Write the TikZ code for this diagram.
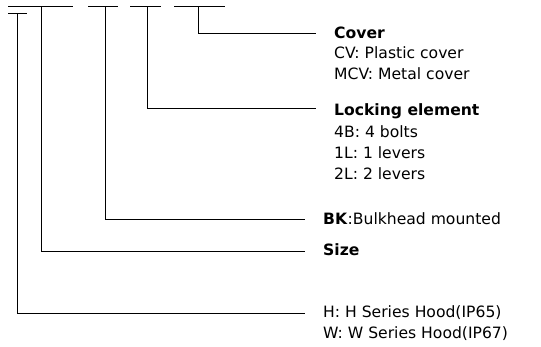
\documentclass[tikz,border=0pt]{standalone}
\usepackage{fontspec}
\setmainfont{DejaVu Sans}
\usetikzlibrary{positioning}

\tikzset{
  head/.style={anchor=base west, inner sep=0pt, font=\fontsize{15.6}{21}\selectfont\bfseries},
  plain/.style={anchor=base west, inner sep=0pt, font=\fontsize{15.6}{21}\selectfont},
  items/.style={anchor=base west, inner sep=0pt, align=left,
    font=\fontsize{15.6}{21.2}\selectfont},
  slot/.style={line width=1pt},
  lead/.style={line width=1pt}
}

\begin{document}
\begin{tikzpicture}[x=1pt,y=-1pt]
  \useasboundingbox (0,0) rectangle (541,346);
  % code slots
  \draw[slot] (8,6) -- (73,6);
  \draw[slot] (8,13) -- (27,13);
  \draw[slot] (88,6) -- (118,6);
  \draw[slot] (130,6) -- (161,6);
  \draw[slot] (174,6) -- (225,6);
  \coordinate (hd) at (17,13);
  \coordinate (sz) at (41,6);
  \coordinate (bk) at (105,6);
  \coordinate (lk) at (147,6);
  \coordinate (cv) at (198,6);
  % texts (base of a list = its last line)
  \node[head] (cover) at (334,38.5) {Cover};
  \node[items] (coverlist) at (334,79.5)
    {CV: Plastic cover\\MCV: Metal cover};
  \node[head] (lock) at (334,115.5) {Locking element};
  \node[items] (locklist) at (334,179.5)
    {4B: 4 bolts\\1L: 1 levers\\2L: 2 levers};
  \node[plain] (bulk) at (323,224.5) {\textbf{BK}:Bulkhead mounted};
  \node[head] (size) at (323,255) {Size};
  \node[plain] (hood) at (323,317.5) {H: H Series Hood(IP65)};
  \node[plain] (hoodw) at (323,338.5) {W: W Series Hood(IP67)};
  % leaders
  \draw[lead] (cv) |- ([shift={(-18,-5.5)}]cover.base west);
  \draw[lead] (lk) |- ([shift={(-18,-7)}]lock.base west);
  \draw[lead] (bk) |- ([shift={(-18,-5.5)}]bulk.base west);
  \draw[lead] (sz) |- ([shift={(-18,-4)}]size.base west);
  \draw[lead] (hd) |- ([shift={(-18,-4.5)}]hood.base west);
\end{tikzpicture}
\end{document}
